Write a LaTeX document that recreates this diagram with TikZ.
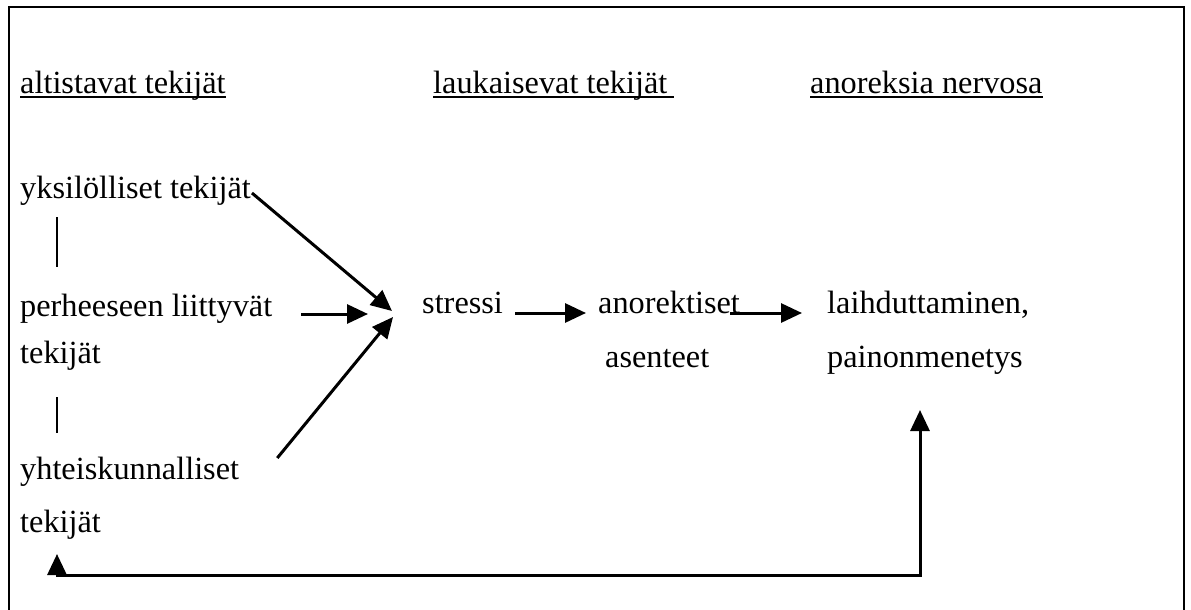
\documentclass[tikz,border=0pt]{standalone}
\usepackage{fontspec}
\setmainfont{Liberation Serif}
\usetikzlibrary{arrows.meta,calc}
\begin{document}
\begin{tikzpicture}[x=1pt,y=-1pt,
  txt/.style={inner sep=0pt, anchor=base west, font=\fontsize{32.3}{39}\selectfont},
  arr/.style={line width=3pt, -{Triangle[length=21pt,width=19pt]}},
  darr/.style={line width=3pt, {Triangle[length=21pt,width=19pt]}-{Triangle[length=21pt,width=19pt]}},
  link/.style={line width=2.2pt},
  uline/.style={line width=2pt}]
\useasboundingbox (0,0) rectangle (1191,610);
\draw[line width=1.3pt] (9,612) -- (9,7) -- (1184,7) -- (1184,612);
% headings
\node[txt] (h1) at (20,93) {altistavat tekijät};
\node[txt] (h2) at (433,93) {laukaisevat tekijät};
\node[txt] (h3) at (810,93) {anoreksia nervosa};
\draw[uline] ($(h1.base west)+(0,4)$) -- ($(h1.base east)+(0,4)$);
\draw[uline] ($(h2.base west)+(0,4)$) -- ($(h2.base east)+(7,4)$);
\draw[uline] ($(h3.base west)+(0,4)$) -- ($(h3.base east)+(0,4)$);
% left column
\node[txt] (a1) at (20,198) {yksilölliset tekijät};
\node[txt] (a2) at (20,316) {perheeseen liittyvät};
\node[txt] (a2b) at (20,363) {tekijät};
\node[txt] (a3) at (20,479) {yhteiskunnalliset};
\node[txt] (a3b) at (20,532) {tekijät};
% middle / right
\node[txt] (s) at (422,313) {stressi};
\node[txt] (an) at (598,313) {anorektiset};
\node[txt] (as) at (605,367) {asenteet};
\node[txt] (l) at (827,313) {laihduttaminen,};
\node[txt] (p) at (827,367) {painonmenetys};
% vertical links
\draw[link] ($(a1.base west)+(37,19)$) -- ($(a2.base west)+(37,-49)$);
\draw[link] ($(a2b.base west)+(37,34)$) -- ($(a3.base west)+(37,-46)$);
% arrows into stressi
\coordinate (t1) at ($(s.base west)+(-30,-2)$);
\coordinate (t2) at ($(s.base west)+(-54,1)$);
\coordinate (t3) at ($(s.base west)+(-29,4)$);
\draw[arr] ($(a1.base east)+(1,-5)$) -- (t1);
\draw[arr] ($(a2.base east)+(29,-2)$) -- (t2);
\draw[arr] ($(a3.base east)+(38,-21)$) -- (t3);
% chain
\draw[arr] ($(s.base east)+(12,0)$) -- ($(an.base west)+(-12,0)$);
\draw[arr] ($(an.base east)+(-10,0)$) -- ($(l.base west)+(-25,0)$);
% feedback loop
\coordinate (f1) at ($(a3b.base west)+(37,22)$);
\coordinate (f2) at ($(a3b.base west)+(37,43)$);
\coordinate (f4) at ($(p.base west)+(93,43)$);
\coordinate (f3) at ($(p.base west)+(93,208)$);
\draw[darr] (f1) -- (f2) -- (f3) -- (f4);
\end{tikzpicture}
\end{document}
